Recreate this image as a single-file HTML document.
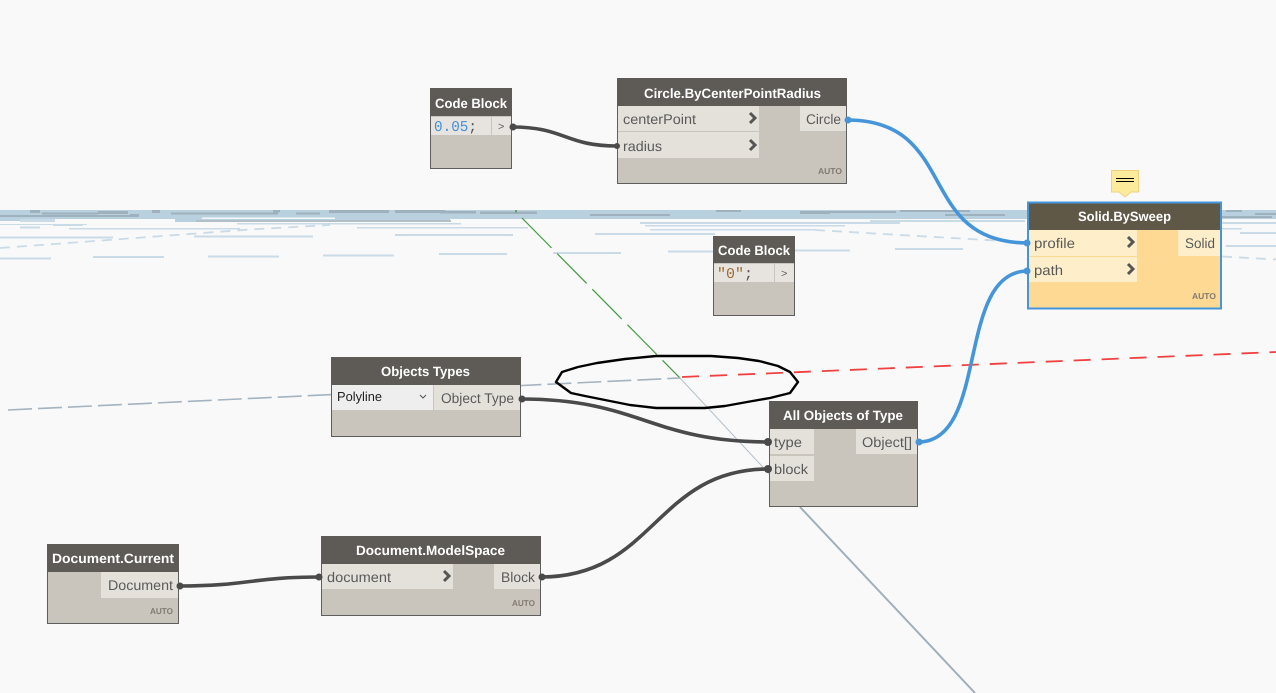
<!DOCTYPE html>
<html><head><meta charset="utf-8"><style>
html,body{margin:0;padding:0;background:#f9f9f9;overflow:hidden}
svg{display:block;position:absolute;left:0;top:0}
text{text-rendering:geometricPrecision}
.h{font:bold 13.500px "Liberation Sans",sans-serif;fill:#fff}
.t{font:14px "Liberation Sans",sans-serif;fill:#5a5a5a}
.a{font:bold 8.500px "Liberation Sans",sans-serif;fill:#807a72}
.m{font:15px "Liberation Mono",monospace}
.ch{fill:none;stroke:#555;stroke-width:3}
.n{fill:#c9c4bc;stroke:#5e5e5e;stroke-width:1}
.hd{fill:#5e5a56}
.r{fill:#e4e1db}
.ry{fill:#feefca}
</style></head><body>
<svg width="1276" height="693" viewBox="0 0 1276 693" xmlns="http://www.w3.org/2000/svg">
<rect width="1276" height="693" fill="#f9f9f9"/>
<!-- horizon band -->
<rect x="0" y="210" width="1276" height="9" fill="#b9d0de"/>
<rect x="175" y="219" width="275" height="3" fill="#b9d0de"/>
<rect x="202" y="217.500" width="133" height="1.500" fill="#f5f8fa"/>
<rect x="0" y="218" width="25" height="3" fill="#b9d0de"/>
<g fill="#c9dbe6">
<rect x="20" y="219" width="35" height="3"/>
<rect x="0" y="224" width="87" height="1"/><rect x="53" y="224" width="30" height="2"/>
<rect x="20" y="226.500" width="20" height="2"/><rect x="69" y="228" width="171" height="1.500"/>
<rect x="237" y="223" width="224" height="1.500"/><rect x="357" y="227" width="171" height="1.500"/>
<rect x="0" y="236.500" width="113" height="2"/><rect x="194" y="235.500" width="119" height="2"/>
<rect x="395" y="234" width="118" height="2"/><rect x="595" y="233" width="120" height="2"/>
<rect x="0" y="257.500" width="51" height="2"/><rect x="93" y="256" width="71" height="2"/>
<rect x="208" y="255.500" width="71" height="2"/><rect x="323" y="254.500" width="71" height="2"/>
<rect x="439" y="253" width="68" height="2"/><rect x="553" y="252" width="68" height="2"/>
<rect x="668" y="250.500" width="45" height="2"/><rect x="795" y="249.500" width="55" height="2"/>
<rect x="895" y="248" width="68" height="2"/>
<rect x="640" y="222" width="260" height="2"/><rect x="645" y="225" width="200" height="1.500"/>
<rect x="650" y="229" width="165" height="1.500"/><rect x="870" y="220" width="155" height="2"/>
<rect x="1222" y="222" width="54" height="2"/><rect x="1240" y="232" width="36" height="2"/>
<rect x="1226" y="245" width="50" height="2"/><rect x="1222" y="228" width="20" height="1.500"/>
</g>
<g stroke="#c9dbe6" stroke-width="1.800" stroke-dasharray="10 7" fill="none"><path d="M0 248 L250 229.500 L330 225"/><path d="M815 230 L1020 242"/><path d="M1222 256.500 L1276 259.500"/></g>
<g fill="#9fb1bc">
<rect x="30" y="210" width="10" height="3"/><rect x="42" y="212.500" width="56" height="2"/><rect x="98" y="211" width="30" height="3"/>
<rect x="0" y="215" width="130" height="2"/><rect x="130" y="214" width="9" height="3"/><rect x="152" y="210" width="8" height="3"/>
<rect x="171" y="212.500" width="107" height="2"/><rect x="273" y="210" width="7" height="2.500"/><rect x="296" y="212.500" width="24" height="2"/>
<rect x="329" y="210" width="60" height="3"/><rect x="395" y="210" width="50" height="3"/><rect x="440" y="211" width="36" height="2.500"/><rect x="480" y="211.500" width="57" height="2.500"/>
<rect x="590" y="214" width="80" height="2"/><rect x="716" y="210" width="25" height="2"/><rect x="800" y="211" width="30" height="3"/><rect x="830" y="211" width="66" height="2"/><rect x="900" y="210" width="70" height="2"/><rect x="945" y="214" width="60" height="2"/>
<rect x="1226" y="210" width="16" height="2"/><rect x="1222" y="216" width="50" height="2"/><rect x="1255" y="213" width="21" height="2"/>
</g>
<rect x="196" y="220" width="255" height="2" fill="#b3bfc7"/>
<!-- axes -->
<path d="M516 210 V212.500" stroke="#3f9a3f" stroke-width="1.500"/>
<path d="M522 218 L680 378" stroke="#3f9a3f" stroke-width="1.200" stroke-dasharray="42 8" fill="none"/>
<path d="M680 378 L800 507" stroke="#b3c0c9" stroke-width="1" fill="none"/>
<path d="M800 507 L975 693" stroke="#9fb0bc" stroke-width="2" fill="none"/>
<path d="M8 410 L680 378" stroke="#a3b3c0" stroke-width="1.600" stroke-dasharray="24 6" fill="none"/>
<path d="M682 377 L1276 352" stroke="#f04040" stroke-width="1.800" stroke-dasharray="17 11" fill="none"/>
<!-- ellipse -->
<path d="M556 382 L562 372 L578 367 L597 363 L625 359 L656 356 L711 356 L738 358 L759 361 L778 366 L790 372 L798 382 L790 393 L770 398 L747 402 L725 406 L705 408 L656 408 L630 405 L605 400 L585 396 L571 393 Z" fill="none" stroke="#000" stroke-width="2.400" stroke-linejoin="round"/>
<!-- connectors dark -->
<g fill="none" stroke="#4a4a4a" stroke-width="3.600">
<path d="M512 127 C565 127 565 146 617 146"/>
<path d="M521 399 C640 399 650 442 769 442"/>
<path d="M541 577 C655 577 655 469 769 469"/>
<path d="M179 586 C250 586 250 577 321 577"/>
</g>
<g fill="none" stroke="#4595db" stroke-width="3.600">
<path d="M847 120 C960 120 915 243 1028 243"/>
<path d="M918 442 C990 442 955 271 1028 271"/>
</g>
<!-- Code Block 1 -->
<rect class="n" x="430.500" y="88.500" width="81" height="80"/><rect class="hd" x="430" y="88" width="82" height="28"/>
<text class="h" x="435" y="108" textLength="72" lengthAdjust="spacingAndGlyphs">Code Block</text>
<rect x="431" y="117" width="60" height="18" fill="#e7e4df"/><rect x="492" y="117" width="19" height="18" fill="#e7e4df"/>
<text class="m" x="434" y="131" fill="#3f8fe0" textLength="43" lengthAdjust="spacingAndGlyphs">0.05<tspan fill="#555">;</tspan></text>
<text class="t" x="498" y="130" style="font-size:11px">&gt;</text>
<!-- Circle -->
<rect class="n" x="617.500" y="78.500" width="229" height="105"/><rect class="hd" x="617" y="78" width="230" height="28"/>
<text class="h" x="644" y="98" textLength="177" lengthAdjust="spacingAndGlyphs">Circle.ByCenterPointRadius</text>
<rect class="r" x="618" y="106" width="141" height="25"/><rect class="r" x="618" y="132" width="141" height="26"/><rect class="r" x="800" y="106" width="46" height="25"/>
<text class="t" x="623" y="124" textLength="73" lengthAdjust="spacingAndGlyphs">centerPoint</text><text class="t" x="623" y="151" textLength="39" lengthAdjust="spacingAndGlyphs">radius</text><text class="t" x="806" y="124" textLength="35" lengthAdjust="spacingAndGlyphs">Circle</text>
<path class="ch" d="M750 113 L755 118 L750 123"/><path class="ch" d="M750 140 L755 145 L750 150"/>
<text class="a" x="818" y="174" textLength="24" lengthAdjust="spacingAndGlyphs">AUTO</text>
<!-- Code Block 2 -->
<rect class="n" x="713.500" y="236.500" width="81" height="79"/><rect class="hd" x="713" y="236" width="82" height="27"/>
<text class="h" x="718" y="255" textLength="72" lengthAdjust="spacingAndGlyphs">Code Block</text>
<rect x="714" y="264" width="60" height="18" fill="#e7e4df"/><rect x="775" y="264" width="19" height="18" fill="#e7e4df"/>
<text class="m" x="717" y="278" fill="#9c6b32" textLength="36" lengthAdjust="spacingAndGlyphs">"0"<tspan fill="#555">;</tspan></text>
<text class="t" x="781" y="277" style="font-size:11px">&gt;</text>
<!-- Solid -->
<rect x="1028" y="202.500" width="193" height="106" fill="#fdd994" stroke="#4595db" stroke-width="2"/><rect x="1029" y="203.500" width="191" height="26.500" fill="#5f5847"/>
<text class="h" x="1078" y="221" textLength="93" lengthAdjust="spacingAndGlyphs">Solid.BySweep</text>
<rect class="ry" x="1029" y="230" width="108" height="26"/><rect class="ry" x="1029" y="257" width="108" height="25"/><rect class="ry" x="1178" y="230" width="42" height="26"/>
<text class="t" x="1034" y="248" textLength="41" lengthAdjust="spacingAndGlyphs">profile</text><text class="t" x="1034" y="275" textLength="29" lengthAdjust="spacingAndGlyphs">path</text><text class="t" x="1185" y="248" textLength="30" lengthAdjust="spacingAndGlyphs">Solid</text>
<path class="ch" d="M1128 237 L1133 242 L1128 247"/><path class="ch" d="M1128 264 L1133 269 L1128 274"/>
<text class="a" x="1192" y="299" textLength="24" lengthAdjust="spacingAndGlyphs">AUTO</text>
<!-- note -->
<path d="M1111.500 170.500 H1138.500 V192 H1131 L1125 197 L1119 192 H1111.500 Z" fill="#fdeb9c" stroke="#f3cf84" stroke-width="1"/>
<path d="M1116 178.500 H1134 M1116 181.500 H1134" stroke="#000" stroke-width="1"/>
<!-- Objects Types -->
<rect class="n" x="331.500" y="357.500" width="189" height="79"/><rect class="hd" x="331" y="357" width="190" height="28"/>
<text class="h" x="381" y="376" textLength="89" lengthAdjust="spacingAndGlyphs">Objects Types</text>
<rect x="332" y="385" width="101" height="25" fill="#eeeeee"/><rect class="r" x="434" y="385" width="86" height="25"/>
<text class="t" x="337" y="401" textLength="45" lengthAdjust="spacingAndGlyphs" style="fill:#222;font-size:13px">Polyline</text>
<text class="t" x="441" y="403" textLength="73" lengthAdjust="spacingAndGlyphs">Object Type</text>
<path d="M420 395 L423 398 L426 395" fill="none" stroke="#555" stroke-width="1"/>
<!-- All Objects -->
<rect class="n" x="769.500" y="401.500" width="148" height="105"/><rect class="hd" x="769" y="401" width="149" height="28"/>
<text class="h" x="783" y="420" textLength="120" lengthAdjust="spacingAndGlyphs">All Objects of Type</text>
<rect class="r" x="770" y="429" width="44" height="25"/><rect class="r" x="770" y="456" width="44" height="25"/><rect class="r" x="856" y="429" width="61" height="25"/>
<text class="t" x="774" y="447" textLength="28" lengthAdjust="spacingAndGlyphs">type</text><text class="t" x="774" y="474" textLength="34" lengthAdjust="spacingAndGlyphs">block</text><text class="t" x="862" y="447" textLength="50" lengthAdjust="spacingAndGlyphs">Object[]</text>
<!-- Doc current -->
<rect class="n" x="47.500" y="544.500" width="131" height="79"/><rect class="hd" x="47" y="544" width="132" height="28"/>
<text class="h" x="52" y="563" textLength="122" lengthAdjust="spacingAndGlyphs">Document.Current</text>
<rect class="r" x="101" y="572" width="77" height="26"/>
<text class="t" x="108" y="590" textLength="65" lengthAdjust="spacingAndGlyphs">Document</text>
<text class="a" x="150" y="614" textLength="23" lengthAdjust="spacingAndGlyphs">AUTO</text>
<!-- ModelSpace -->
<rect class="n" x="321.500" y="536.500" width="219" height="79"/><rect class="hd" x="321" y="536" width="220" height="28"/>
<text class="h" x="356" y="555" textLength="149" lengthAdjust="spacingAndGlyphs">Document.ModelSpace</text>
<rect class="r" x="322" y="564" width="131" height="25"/><rect class="r" x="494" y="564" width="46" height="25"/>
<text class="t" x="327" y="582" textLength="64" lengthAdjust="spacingAndGlyphs">document</text><text class="t" x="501" y="582" textLength="34" lengthAdjust="spacingAndGlyphs">Block</text>
<path class="ch" d="M444 571 L449 576 L444 581"/>
<text class="a" x="512" y="606" textLength="23" lengthAdjust="spacingAndGlyphs">AUTO</text>
<!-- ports -->
<g fill="#4a4a4a">
<circle cx="513" cy="127" r="3.500"/><circle cx="617" cy="146" r="3"/><circle cx="522" cy="399" r="3.500"/><circle cx="768" cy="442" r="4"/><circle cx="768" cy="469" r="4"/><circle cx="542" cy="577" r="3.500"/><circle cx="180" cy="586" r="3.500"/><circle cx="319" cy="577" r="3.500"/>
</g>
<g fill="#4595db"><circle cx="848" cy="120" r="3.500"/><circle cx="1027" cy="243" r="3.500"/><circle cx="1027" cy="271" r="3.500"/><circle cx="919" cy="442" r="3.500"/></g>
</svg>
</body></html>
